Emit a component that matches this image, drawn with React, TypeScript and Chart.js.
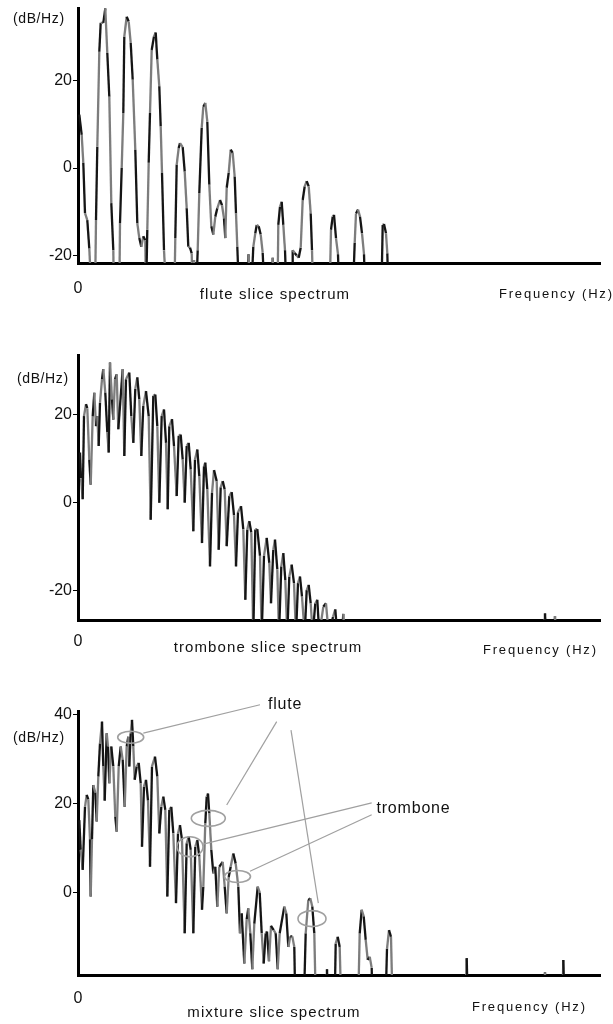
import React, { useEffect, useRef } from 'react';
import { Chart, registerables } from 'chart.js';

Chart.register(...registerables);

const FONT = '"Liberation Sans", Arial, Helvetica, sans-serif';

// ---------- data: flute slice spectrum ----------
const fluteFreqHz = [
  13, 37, 53, 70, 93, 113, 137, 170, 180, 193,
  213, 227, 253, 273, 293, 313, 333, 353, 360, 413,
  420, 437, 453, 463, 487, 507, 527, 547, 573, 593,
  613, 633, 653, 673, 680, 693, 707, 720, 737, 760,
  777, 793, 813, 827, 840, 860, 887, 963, 973, 987,
  1007, 1020, 1047, 1067, 1087, 1103, 1120, 1137, 1147, 1160,
  1180, 1197, 1213, 1237, 1253, 1273, 1293, 1313, 1333, 1353,
  1373, 1393, 1420, 1440, 1460, 1473, 1487, 1507, 1527, 1547,
  1567, 1580, 1593, 1613, 1700, 1705, 1730, 1753, 1773, 1787,
  1807, 1827, 1847, 1867, 1940, 1947, 1955, 1995, 2003, 2020,
  2037, 2053, 2070, 2087, 2140, 2147, 2167, 2187, 2207, 2227,
  2247, 2267, 2287, 2307, 2327, 2340, 2353, 2515, 2530, 2547,
  2560, 2580, 2600, 2613, 2747, 2767, 2780, 2800, 2820, 2840,
  2860, 2873, 3033, 3047, 3060, 3080, 3093, 3107, 5220,
];
const fluteDb = [
  12.2, 7.6, 1.2, -10.3, -11.9, -18.4, -30, -30, -11.9, 4.9,
  26.6, 33.2, 33.2, 36.5, 26.3, 16.3, -8, -18.8, -30, -30,
  -12.6, 0, 12.6, 30.1, 34.6, 33.5, 28.6, 20.2, 4.2, -12.6,
  -16, -18, -15.6, -16.5, -30, -14.1, 1.2, 12.6, 27, 30.1,
  31, 24.8, 18.7, 9.5, -1.1, -18.8, -30, -30, -16, 0.8,
  4.6, 5.7, 4.8, -0.8, -9.2, -18, -18.2, -19.5, -30, -21,
  -30, -18.8, -5.7, 9.2, 14, 14.9, 10.6, -3.8, -13.3, -15.2,
  -11.1, -9.2, -7.3, -8.5, -11.5, -16, -4.5, -1.1, 4.2, 3.5,
  -2, -10.4, -18, -30, -30, -19.7, -30, -18, -14.9, -13,
  -13.3, -15.2, -19.4, -30, -30, -20.5, -30, -30, -13, -8.8,
  -7.7, -13, -18.8, -30, -30, -18.8, -19.4, -20, -20.5, -18.2,
  -7.3, -4.2, -3, -4.2, -10.4, -18.8, -30, -30, -14.1, -11.1,
  -10.7, -16, -19.7, -30, -30, -17.1, -10.4, -9.5, -11.1, -14.9,
  -19.7, -30, -30, -13, -12.8, -14.9, -19.5, -30, -30,
];

// ---------- data: trombone slice spectrum ----------
const tromboneFreqHz = [
  20, 30, 47, 60, 80, 93, 113, 127, 147, 163,
  180, 193, 207, 220, 240, 253, 273, 293, 307, 320,
  340, 353, 370, 387, 403, 447, 463, 480, 513, 533,
  553, 573, 593, 613, 633, 653, 680, 707, 727, 753,
  773, 793, 813, 837, 860, 880, 897, 913, 940, 960,
  987, 1007, 1027, 1047, 1067, 1087, 1107, 1127, 1153, 1170,
  1193, 1213, 1240, 1260, 1273, 1293, 1320, 1340, 1360, 1387,
  1407, 1427, 1447, 1467, 1487, 1513, 1537, 1560, 1580, 1600,
  1630, 1653, 1673, 1693, 1713, 1733, 1753, 1773, 1793, 1820,
  1837, 1860, 1887, 1913, 1930, 1953, 1970, 1993, 2010, 2033,
  2053, 2073, 2093, 2113, 2137, 2160, 2180, 2200, 2220, 2240,
  2267, 2287, 2307, 2327, 2347, 2373, 2393, 2413, 2453, 2480,
  2507, 2550, 2573, 2593, 2640, 2653, 2667, 4660, 4670, 4680,
  4760, 4770, 4780, 5220,
];
const tromboneDb = [
  11.4, 5.6, 0.8, 19.7, 22.4, 21.5, 9.8, 4.1, 19.7, 25.0,
  17.4, 19.7, 12.9, 22.7, 28.1, 30.4, 25.0, 16.0, 11.4, 31.9,
  23.5, 18.9, 28.1, 29.2, 16.7, 30.4, 10.6, 28.1, 29.6, 19.7,
  13.6, 25.9, 28.5, 23.5, 10.6, 22.0, 25.4, 19.7, -3.9, 24.3,
  24.6, 17.4, 0, 19.7, 21.2, 13.6, -1.5, 17.4, 19.0, 12.9,
  1.5, 15.2, 15.5, 9.8, 0, 12.9, 13.6, 7.5, -6.5, 9.8,
  12.1, 6.0, -9.2, 8.3, 9.1, 3.0, -14.5, 2.2, 7.4, 4.9,
  -10.7, 3.5, 4.9, 3.0, -9.9, 1.5, 2.4, -2.9, -14.5, -2.2,
  -0.8, -6.1, -22.1, -6.1, -4.2, -6.8, -30, -6.1, -6.0, -12.1,
  -30, -12.1, -8.0, -13.7, -22.9, -10.7, -8.4, -15.2, -30, -14.5,
  -11.5, -17.6, -30, -16.8, -14.1, -18.3, -30, -18.3, -16.8, -21.4,
  -30, -19.9, -18.7, -22.9, -30, -22.9, -22.1, -30, -23.7, -22.9,
  -30, -26, -24.3, -30, -30, -25.3, -30, -30, -25.2, -30,
  -30, -25.8, -30, -30,
];

// ---------- data: mixture slice spectrum ----------
const mixtureFreqHz = [
  13, 27, 47, 70, 87, 103, 120, 127, 140, 153,
  173, 187, 203, 220, 240, 253, 267, 287, 300, 313,
  333, 353, 373, 387, 407, 427, 447, 467, 487, 503,
  513, 527, 540, 553, 567, 587, 607, 627, 640, 660,
  680, 700, 720, 740, 770, 793, 813, 833, 853, 873,
  893, 913, 933, 953, 980, 1000, 1020, 1040, 1067, 1087,
  1107, 1127, 1153, 1173, 1193, 1213, 1240, 1253, 1273, 1287,
  1300, 1313, 1333, 1353, 1373, 1393, 1413, 1447, 1467, 1487,
  1507, 1527, 1553, 1577, 1603, 1620, 1637, 1663, 1687, 1703,
  1723, 1743, 1763, 1797, 1817, 1837, 1857, 1877, 1890, 1910,
  1930, 1957, 1977, 1997, 2017, 2063, 2083, 2103, 2123, 2143,
  2163, 2177, 2253, 2277, 2303, 2323, 2343, 2363, 2383, 2477,
  2490, 2503, 2563, 2577, 2597, 2617, 2637, 2797, 2817, 2837,
  2857, 2877, 2897, 2917, 2937, 2947, 3070, 3090, 3110, 3130,
  3150, 3870, 3887, 3903, 4660, 4670, 4680, 4840, 4853, 4870,
  5220,
];
const mixtureDb = [
  16.3, 9.6, 5.1, 19.3, 22.0, 21.0, 12, -0.9, 12, 24.2,
  22.5, 16, 26.1, 33.6, 38.5, 28.4, 20.7, 35.9, 32.9, 24.6,
  32.9, 28.4, 17.1, 13.7, 28.4, 32.9, 29.9, 19.3, 32.9, 35.1,
  28.4, 35.9, 38.9, 32.9, 25.4, 28.4, 29.2, 24.6, 10.3, 23.9,
  25.4, 20.7, 5.8, 28.4, 30.6, 26.1, 13.3, 19.3, 21.6, 18.6,
  -0.9, 18.6, 19.3, 13.3, -2.4, 13.3, 15.2, 11.8, -9.2, 11.1,
  12.6, 9.6, -9.2, 10.3, 11.8, 8.1, -3.9, 1.3, 15.6, 21.6,
  22.3, 17.8, 9.6, 4.3, 5.8, -3.2, 5.8, 6.9, 1.3, -4.7,
  3.5, 5.8, 8.8, 6.5, 1.3, -9.2, -4.7, -16, -6, -3.6,
  -9.2, -17.3, -7, 1.3, 0, -9.2, -16, -9.2, -8.8, -15.5,
  -7.5, -8.5, -9.2, -17.3, -9.2, -3.2, -4.7, -12.3, -9.9, -9.9,
  -12.3, -30, -30, -9.2, -1.7, -1.3, -3.2, -9.2, -30, -30,
  -17.3, -30, -30, -11.5, -10, -12.3, -30, -30, -9.2, -3.9,
  -5.4, -10.7, -15.2, -14.5, -17, -30, -30, -12.7, -8.5, -10,
  -30, -30, -14.8, -30, -30, -18, -30, -30, -15.2, -30,
  -30,
];

// ---------- labels / ticks ----------
const panelCaptions = ['flute slice spectrum', 'trombone slice spectrum', 'mixture slice spectrum'];
const yUnitLabel = '(dB/Hz)';
const xAxisLabel = 'Frequency (Hz)';
const xTickValues = [0];
const fluteYTicks = [-20, 0, 20];
const tromboneYTicks = [-20, 0, 20];
const mixtureYTicks = [0, 20, 40];
const xMaxHz = 5220;

// ---------- annotations of the mixture panel (Hz, dB) ----------
const noteLabels = ['flute', 'trombone'];
const noteLabelHz = [1900, 2985];
const noteLabelDb = [42.3, 18.8];
const ellipseHz = [527, 1303, 1120, 1595, 2340];
const ellipseDb = [35.0, 16.7, 10.3, 3.6, -5.9];
const leaderFromHz = [1820, 1987, 2130, 2937, 2937];
const leaderFromDb = [42.3, 38.5, 36.6, 20.2, 17.5];
const leaderToHz = [653, 1487, 2403, 1253, 1720];
const leaderToDb = [35.9, 19.7, -2.4, 10.9, 4.8];

// ---------- layout / style (page pixels) ----------
const PAGE_W = 613;
const PAD_TOP = 20;
const X_AXIS_H = 50;
const Y_AXIS_W = 78;
const RIGHT_PAD = 13;
const ellipseRx = [13, 17, 13, 13, 14];
const ellipseRy = [6, 8, 10, 6, 8];

const panels = [
  { freq: fluteFreqHz, db: fluteDb, yTicks: fluteYTicks, plotTop: 8, plotH: 255, yMin: -21.7, yMax: 36.6,
    zeroPad: 8, unitX: 13, unitY: 19, captionX: 275, captionY: 295, freqX: 499, freqY: 294, notes: false },
  { freq: tromboneFreqHz, db: tromboneDb, yTicks: tromboneYTicks, plotTop: 355, plotH: 265, yMin: -26.7, yMax: 33.6,
    zeroPad: 4, unitX: 17, unitY: 379, captionX: 268, captionY: 648, freqX: 483, freqY: 650, notes: false },
  { freq: mixtureFreqHz, db: mixtureDb, yTicks: mixtureYTicks, plotTop: 711, plotH: 264, yMin: -18.6, yMax: 40.9,
    zeroPad: 6, unitX: 13, unitY: 738, captionX: 274, captionY: 1013, freqX: 472, freqY: 1007, notes: true },
];

function textPlugin(i: number) {
  return {
    id: 'panelText' + i,
    afterDraw(chart: any) {
      const P = panels[i];
      const top = P.plotTop - PAD_TOP;
      const ctx = chart.ctx;
      ctx.save();
      ctx.fillStyle = '#111';
      ctx.textBaseline = 'middle';
      ctx.font = `14px ${FONT}`;
      ctx.letterSpacing = '0.6px';
      ctx.textAlign = 'left';
      ctx.fillText(yUnitLabel, P.unitX, P.unitY - top);
      ctx.font = `15px ${FONT}`;
      ctx.letterSpacing = '1.1px';
      ctx.textAlign = 'center';
      ctx.fillText(panelCaptions[i], P.captionX, P.captionY - top);
      ctx.font = `13px ${FONT}`;
      ctx.letterSpacing = '1.8px';
      ctx.textAlign = 'left';
      ctx.fillText(xAxisLabel, P.freqX, P.freqY - top);
      ctx.restore();
    },
  };
}

const notesPlugin = {
  id: 'mixtureNotes',
  afterDatasetsDraw(chart: any) {
    const { ctx } = chart;
    const x = chart.scales.x;
    const y = chart.scales.y;
    ctx.save();
    ctx.strokeStyle = '#a0a0a0';
    ctx.lineWidth = 1.2;
    for (let k = 0; k < leaderFromHz.length; k++) {
      ctx.beginPath();
      ctx.moveTo(x.getPixelForValue(leaderFromHz[k]), y.getPixelForValue(leaderFromDb[k]));
      ctx.lineTo(x.getPixelForValue(leaderToHz[k]), y.getPixelForValue(leaderToDb[k]));
      ctx.stroke();
    }
    ctx.lineWidth = 1.6;
    for (let k = 0; k < ellipseHz.length; k++) {
      ctx.beginPath();
      ctx.ellipse(x.getPixelForValue(ellipseHz[k]), y.getPixelForValue(ellipseDb[k]), ellipseRx[k], ellipseRy[k], 0, 0, Math.PI * 2);
      ctx.stroke();
    }
    ctx.fillStyle = '#111';
    ctx.font = `16px ${FONT}`;
    ctx.letterSpacing = '0.8px';
    ctx.textBaseline = 'middle';
    ctx.textAlign = 'left';
    for (let k = 0; k < noteLabels.length; k++) {
      ctx.fillText(noteLabels[k], x.getPixelForValue(noteLabelHz[k]), y.getPixelForValue(noteLabelDb[k]));
    }
    ctx.restore();
  },
};

function Panel({ index }: { index: number }) {
  const ref = useRef<HTMLCanvasElement | null>(null);
  const P = panels[index];
  const H = PAD_TOP + P.plotH + X_AXIS_H;
  useEffect(() => {
    const canvas = ref.current;
    if (!canvas) return;
    const tickFont = { family: FONT, size: 16 };
    const chart = new Chart(canvas, {
      type: 'line',
      data: {
        datasets: [
          {
            data: P.freq.map((f, k) => ({ x: f, y: P.db[k] })),
            borderColor: '#111',
            borderWidth: 2.3,
            pointRadius: 0,
            tension: 0,
            fill: false,
            clip: 0,
            segment: {
              borderColor: (c: any) => (c.p0DataIndex % 2 ? '#7d7d7d' : '#151515'),
            },
          },
        ],
      },
      options: {
        animation: false,
        responsive: false,
        maintainAspectRatio: false,
        devicePixelRatio: 1,
        events: [],
        layout: { padding: { top: PAD_TOP, right: RIGHT_PAD, bottom: 0, left: 0 } },
        plugins: { legend: { display: false }, tooltip: { enabled: false }, title: { display: false } },
        scales: {
          x: {
            type: 'linear',
            min: 0,
            max: xMaxHz,
            afterBuildTicks: (s: any) => { s.ticks = xTickValues.map((v) => ({ value: v })); },
            afterFit: (s: any) => { s.height = X_AXIS_H; },
            grid: { display: false },
            border: { display: true, color: '#000', width: 3 },
            ticks: { font: tickFont, color: '#111', padding: P.zeroPad, maxRotation: 0, autoSkip: false, callback: (v: any) => String(v) },
          },
          y: {
            type: 'linear',
            min: P.yMin,
            max: P.yMax,
            afterBuildTicks: (s: any) => { s.ticks = P.yTicks.map((v) => ({ value: v })); },
            afterFit: (s: any) => { s.width = Y_AXIS_W; },
            grid: { drawOnChartArea: false, drawTicks: true, tickLength: 5, color: '#000', lineWidth: 1 },
            border: { display: true, color: '#000', width: 3 },
            ticks: { font: tickFont, color: '#111', padding: 1, autoSkip: false, callback: (v: any) => String(v) },
          },
        },
      },
      plugins: P.notes ? [textPlugin(index), notesPlugin] : [textPlugin(index)],
    } as any);
    return () => chart.destroy();
  }, []);
  return (
    <canvas
      ref={ref}
      width={PAGE_W}
      height={H}
      style={{ position: 'absolute', left: 0, top: P.plotTop - PAD_TOP, width: PAGE_W, height: H, display: 'block' }}
    />
  );
}

export default function App() {
  return (
    <div style={{ position: 'absolute', left: 0, top: 0, width: PAGE_W, height: 1024, overflow: 'hidden', background: '#fff' }}>
      {panels.map((_, i) => (
        <Panel key={i} index={i} />
      ))}
    </div>
  );
}
